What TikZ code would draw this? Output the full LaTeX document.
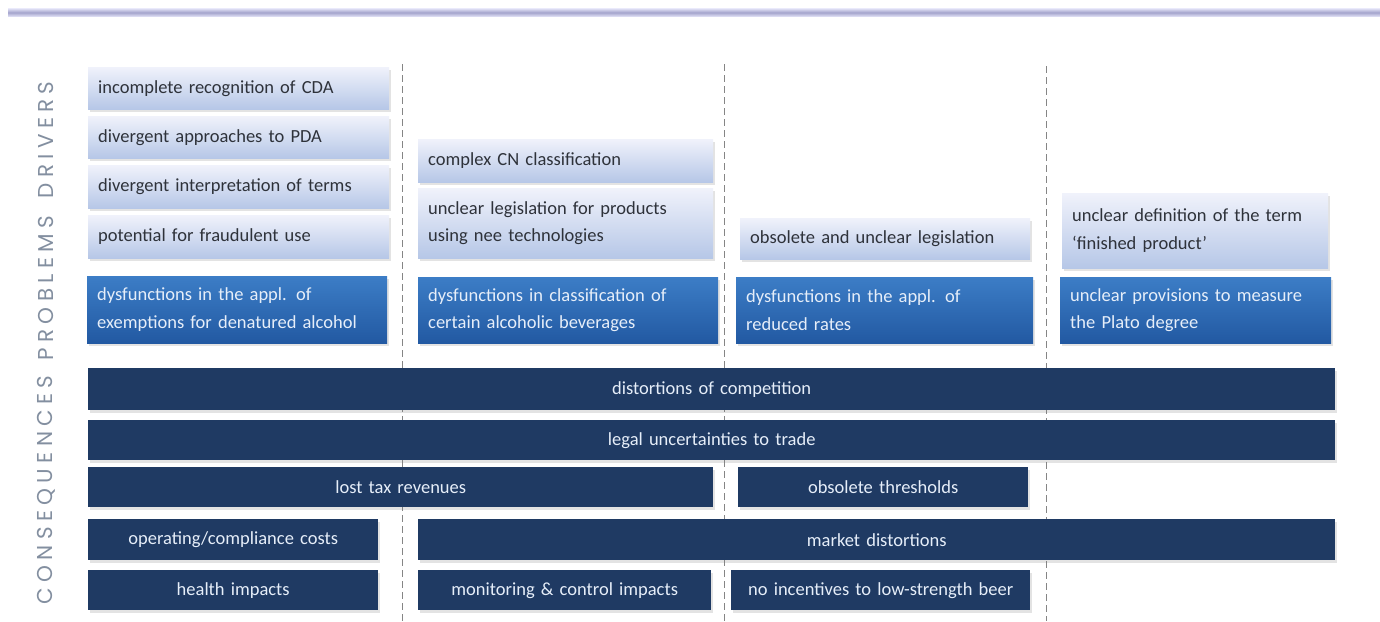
\documentclass[tikz,border=0pt]{standalone}
\usepackage{fontspec}
\setmainfont{Carlito}
\newfontfamily\labfont[LetterSpace=25]{Poppins}
\usetikzlibrary{shadows}
\definecolor{lbtop}{HTML}{F0F2FB}
\definecolor{lbbot}{HTML}{B6C7E7}
\definecolor{pbtop}{HTML}{3C7DC6}
\definecolor{pbbot}{HTML}{2259A2}
\definecolor{cbcol}{HTML}{1F3A63}
\definecolor{lbtext}{HTML}{2E323A}
\definecolor{pbtext}{HTML}{E6EEF9}
\definecolor{labgray}{HTML}{838FA0}
\definecolor{dashgray}{HTML}{858585}
\definecolor{topline}{HTML}{A3A3CC}
\definecolor{toplinelight}{HTML}{E2E2F6}
\tikzset{
  base/.style={inner xsep=10pt, inner ysep=0pt, rectangle,
    font=\fontsize{18.5}{27.5}\selectfont,
    drop shadow={opacity=0.22, shadow xshift=1.5pt, shadow yshift=-2.5pt}},
  lbox/.style={base, top color=lbtop, bottom color=lbbot, text=lbtext, align=left},
  pbox/.style={base, top color=pbtop, bottom color=pbbot, text=pbtext, align=left},
  cbox/.style={base, fill=cbcol, text=pbtext, align=center},
  sepline/.style={dashgray, line width=1pt, dash pattern=on 7pt off 4pt},
  lab/.style={rotate=90, text=labgray, font=\labfont\fontsize{21.5}{21.5}\selectfont, anchor=center}
}
\newcommand\Bx[7]{%
  \pgfmathsetmacro\bw{#5-#3}%
  \pgfmathsetmacro\bh{#6-#4}%
  \pgfmathsetmacro\tw{#5-#3-20}%
  \node[#2, minimum width=\bw pt, minimum height=\bh pt, text width=\tw pt, anchor=north west] (#1) at (#3,#4) {#7};}
\begin{document}
\begin{tikzpicture}[x=1pt,y=-1pt]
\useasboundingbox[fill=white] (0,0) rectangle (1380,621);
% top rule
\shade[top color=toplinelight, bottom color=toplinelight, middle color=topline] (8,8.5) rectangle (1380,16.5);
% separators
\coordinate (s1t) at (402,64); \coordinate (s1b) at (402,621);
\coordinate (s2t) at (724,64); \coordinate (s2b) at (724,621);
\coordinate (s3t) at (1046,66); \coordinate (s3b) at (1046,621);
\draw[sepline] (s1t) -- (s1b);
\draw[sepline] (s2t) -- (s2b);
\draw[sepline] (s3t) -- (s3b);
% side labels
\node[lab] (ldr) at (46,140) {DRIVERS};
\node[lab] (lpr) at (46,288) {PROBLEMS};
\node[lab] (lco) at (46,490) {CONSEQUENCES};
% column 1
\Bx{d1}{lbox}{88}{67}{389}{109}{incomplete recognition of CDA}
\Bx{d2}{lbox}{88}{116}{389}{158}{divergent approaches to PDA}
\Bx{d3}{lbox}{88}{165}{389}{208}{divergent interpretation of terms}
\Bx{d4}{lbox}{88}{215}{389}{258}{potential for fraudulent use}
\Bx{p1}{pbox}{87}{276}{387}{343}{dysfunctions in the appl. of\\exemptions for denatured alcohol}
% column 2
\Bx{d5}{lbox}{418}{139}{713}{182}{complex CN classification}
\Bx{d6}{lbox}{418}{188}{713}{258}{unclear legislation for products\\using nee technologies}
\Bx{p2}{pbox}{418}{277}{718}{343}{dysfunctions in classification of\\certain alcoholic beverages}
% column 3
\Bx{d7}{lbox}{740}{218}{1030}{259}{obsolete and unclear legislation}
\Bx{p3}{pbox}{736}{277}{1033}{343}{dysfunctions in the appl. of\\reduced rates}
% column 4
\Bx{d8}{lbox}{1062}{193}{1328}{268}{unclear definition of the term\\`finished product'}
\Bx{p4}{pbox}{1060}{277}{1331}{343}{unclear provisions to measure\\the Plato degree}
% consequences
\Bx{c1}{cbox}{88}{368}{1335}{410}{distortions of competition}
\Bx{c2}{cbox}{88}{420}{1335}{460}{legal uncertainties to trade}
\Bx{c3}{cbox}{88}{467}{713}{507}{lost tax revenues}
\Bx{c4}{cbox}{738}{467}{1028}{507}{obsolete thresholds}
\Bx{c5}{cbox}{88}{519}{378}{560}{operating/compliance costs}
\Bx{c6}{cbox}{418}{519}{1335}{560}{market distortions}
\Bx{c7}{cbox}{88}{570}{378}{610}{health impacts}
\Bx{c8}{cbox}{418}{570}{711}{610}{monitoring \& control impacts}
\Bx{c9}{cbox}{731}{570}{1030}{610}{no incentives to low-strength beer}
\end{tikzpicture}
\end{document}
